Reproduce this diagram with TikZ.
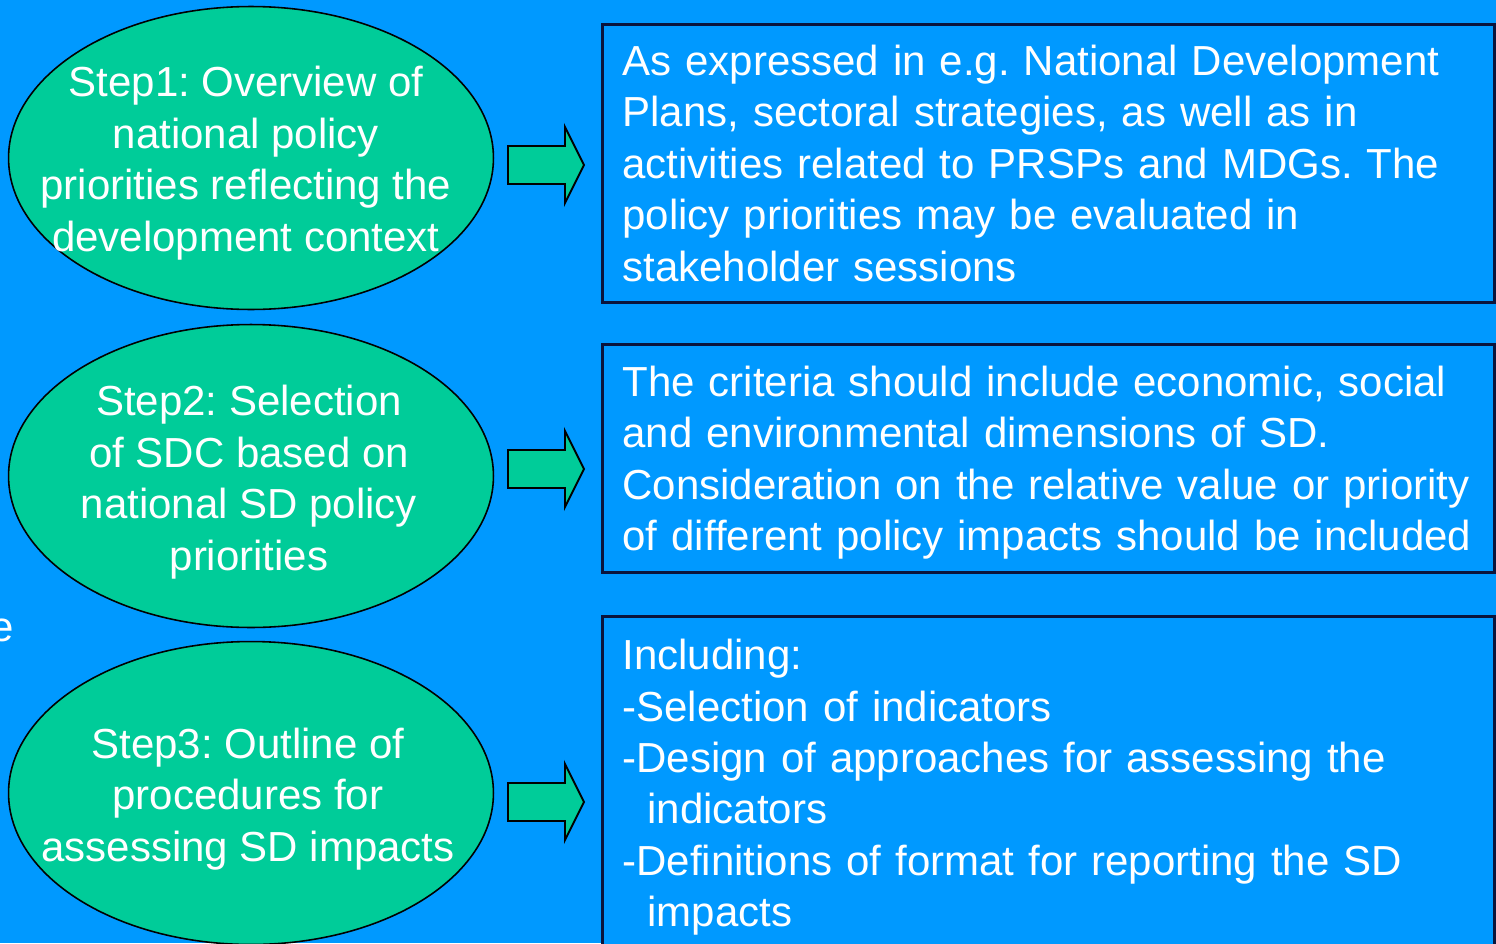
\documentclass[tikz,border=0pt]{standalone}
\usepackage{fontspec}
\setmainfont{Liberation Sans}
\usetikzlibrary{shapes,positioning}
\definecolor{bgblue}{RGB}{0,153,255}
\definecolor{stepgreen}{RGB}{0,204,153}
\definecolor{boxline}{RGB}{10,20,60}
\newcommand{\bigtext}{\fontsize{23.9}{29.3}\selectfont\frenchspacing
  \hyphenpenalty=10000 \exhyphenpenalty=10000 }
\tikzset{
  stepell/.style={draw=black, line width=0.9pt, fill=stepgreen, ellipse,
    minimum width=9.7cm, minimum height=6.06cm, inner sep=0pt},
  steptxt/.style={text=white, align=center, font=\bigtext, inner sep=0pt},
  infobox/.style={draw=boxline, line width=1.6pt, fill=bgblue, rectangle,
    anchor=north west, minimum width=17.84cm, text width=17.04cm,
    inner xsep=0.40cm, align=left, text=white, font=\bigtext},
  blockarrow/.style={draw=black, line width=1.1pt, fill=stepgreen, line join=miter}
}
\begin{document}
\begin{tikzpicture}[x=0.02cm, y=-0.02cm]
  \useasboundingbox (0,0) rectangle (1496,943);
  \clip (0,0) rectangle (1496,943);
  \fill[bgblue] (0,0) rectangle (1496,943);

  % steps
  \node[stepell] (s1) at (251,158) {};
  \node[steptxt] (s1t) at (246,163) {Step1: Overview of\\ national policy\\ priorities reflecting the\\ development context};

  \node[stepell] (s2) at (251,476) {};
  \node[steptxt] (s2t) at (249,482) {Step2: Selection\\ of SDC based on\\ national SD policy\\ priorities};

  \node[stepell] (s3) at (251,793) {};
  \node[steptxt] (s3t) at (248,799) {Step3: Outline of\\ procedures for\\ assessing SD impacts};

  % boxes
  \node[infobox, minimum height=5.56cm] (b1) at (601,23)
  {As expressed in e.g. National Development\\ Plans, sectoral strategies, as well as in\\ activities related to PRSPs and MDGs. The\\ policy priorities may be evaluated in\\ stakeholder sessions};

  \node[infobox, minimum height=4.56cm] (b2) at (601,343)
  {\rule{0pt}{0.78cm}The criteria should include economic, social\\ and environmental dimensions of SD.\\ Consideration on the relative value or priority\\ of different policy impacts should be included};

  \node[infobox, minimum height=6.84cm] (b3) at (601,615)
  {Including:\\ -Selection of indicators\\ -Design of approaches for assessing the\\ \hspace*{0.5cm}indicators\\ -Definitions of format for reporting the SD\\ \hspace*{0.5cm}impacts};

  % block arrows
  \foreach \yc in {165,469,802}
    \draw[blockarrow] (508,\yc-19) -- (565,\yc-19) -- (565,\yc-38) -- (584,\yc)
      -- (565,\yc+38) -- (565,\yc+19) -- (508,\yc+19) -- cycle;

  % cut-off letter at the left edge
  \node[text=white, font=\bigtext, anchor=base east, inner sep=0pt] (edge) at (14,641) {e};
\end{tikzpicture}
\end{document}
